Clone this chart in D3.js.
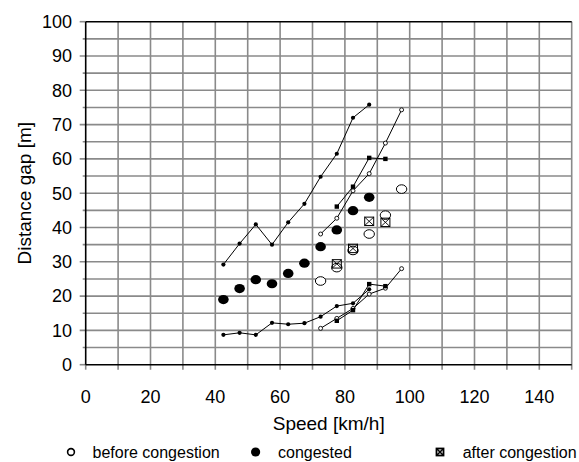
<!DOCTYPE html>
<html>
<head>
<meta charset="utf-8">
<script src="https://cdn.jsdelivr.net/npm/d3@7"></script>
<style>
  html, body { margin: 0; padding: 0; background: #fff; }
  svg { display: block; font-family: "Liberation Sans", Arial, sans-serif; }
</style>
</head>
<body>
<svg id="chart" width="579" height="462"></svg>
<script>
// Speed bins (km/h) for each traffic state
const speedCongested = [42.5, 47.5, 52.5, 57.5, 62.5, 67.5, 72.5, 77.5, 82.5, 87.5];
const speedBefore = [72.5, 77.5, 82.5, 87.5, 92.5, 97.5];
const speedAfter = [77.5, 82.5, 87.5, 92.5];

// Distance gap (m): mean and upper/lower bounds
const congestedUpper = [29.2, 35.3, 40.9, 35.0, 41.5, 46.9, 54.8, 61.5, 72.0, 75.8];
const congestedMean = [19.0, 22.2, 24.8, 23.6, 26.6, 29.6, 34.4, 39.3, 44.9, 48.8];
const congestedLower = [8.7, 9.3, 8.7, 12.2, 11.8, 12.1, 14.0, 17.1, 17.9, 22.0];

const beforeUpper = [38.1, 42.7, 50.7, 55.7, 64.6, 74.3];
const beforeMean = [24.4, 28.3, 33.3, 38.1, 43.6, 51.2];
const beforeLower = [10.6, 13.5, 16.4, 20.6, 22.3, 28.0];

const afterUpper = [46.1, 51.9, 60.3, 60.0];
const afterMean = [29.4, 33.9, 41.8, 41.5];
const afterLower = [12.8, 15.9, 23.5, 22.9];

// Axis ticks
const xTicks = [0, 20, 40, 60, 80, 100, 120, 140];
const yTicks = [0, 10, 20, 30, 40, 50, 60, 70, 80, 90, 100];

const legendLabels = ["before congestion", "congested", "after congestion"];

const svg = d3.select("#chart");
const x = d3.scaleLinear().domain([0, 150]).range([85.7, 571.7]);
const y = d3.scaleLinear().domain([0, 100]).range([364.7, 21.7]);

const gridColor = "#8a8a8a";

// Grid: vertical every 10 km/h, horizontal every 5 m
const grid = svg.append("g");
grid.selectAll("line.v").data(d3.range(10, 151, 10)).join("line")
  .attr("x1", d => x(d)).attr("x2", d => x(d))
  .attr("y1", y(100)).attr("y2", y(0) + 5)
  .attr("stroke", gridColor).attr("stroke-width", 1.6);
grid.selectAll("line.h").data(d3.range(5, 100, 5)).join("line")
  .attr("x1", d => x(0) - (d % 10 === 0 ? 6 : 3)).attr("x2", x(150))
  .attr("y1", d => y(d)).attr("y2", d => y(d))
  .attr("stroke", gridColor).attr("stroke-width", 1.6);

// Axis ticks at the origin and the top
grid.append("line").attr("x1", x(0) - 6).attr("x2", x(0)).attr("y1", y(100)).attr("y2", y(100))
  .attr("stroke", gridColor).attr("stroke-width", 1.6);
grid.append("line").attr("x1", x(0) - 6).attr("x2", x(0)).attr("y1", y(0)).attr("y2", y(0))
  .attr("stroke", gridColor).attr("stroke-width", 1.6);
grid.append("line").attr("x1", x(0)).attr("x2", x(0)).attr("y1", y(0)).attr("y2", y(0) + 5)
  .attr("stroke", gridColor).attr("stroke-width", 1.6);

// Frame: black left, bottom and top; grey right
svg.append("line").attr("x1", x(0)).attr("x2", x(150)).attr("y1", y(100)).attr("y2", y(100))
  .attr("stroke", "#000").attr("stroke-width", 1.6);
svg.append("line").attr("x1", x(0)).attr("x2", x(150)).attr("y1", y(0)).attr("y2", y(0))
  .attr("stroke", "#000").attr("stroke-width", 1.6);
svg.append("line").attr("x1", x(0)).attr("x2", x(0)).attr("y1", y(100)).attr("y2", y(0))
  .attr("stroke", "#000").attr("stroke-width", 1.6);

// Tick labels
svg.append("g").selectAll("text").data(xTicks).join("text")
  .attr("x", d => x(d)).attr("y", 402.5)
  .attr("text-anchor", "middle").attr("font-size", 18).text(d => d);
svg.append("g").selectAll("text").data(yTicks).join("text")
  .attr("x", 72).attr("y", d => y(d)).attr("dy", "0.35em")
  .attr("text-anchor", "end").attr("font-size", 18).text(d => d);

// Axis titles
svg.append("text").attr("x", (x(0) + x(150)) / 2).attr("y", 430)
  .attr("text-anchor", "middle").attr("font-size", 19).text("Speed [km/h]");
svg.append("text").attr("transform", `translate(30.5,${(y(0) + y(100)) / 2}) rotate(-90)`)
  .attr("text-anchor", "middle").attr("font-size", 19).text("Distance gap [m]");

const zip = (xs, ys) => xs.map((v, i) => [v, ys[i]]);
const line = d3.line().x(d => x(d[0])).y(d => y(d[1]));
const marks = svg.append("g");

// Bound lines
[
  zip(speedCongested, congestedUpper), zip(speedCongested, congestedLower),
  zip(speedBefore, beforeUpper), zip(speedBefore, beforeLower),
  zip(speedAfter, afterUpper), zip(speedAfter, afterLower)
].forEach(pts => {
  marks.append("path").attr("d", line(pts))
    .attr("fill", "none").attr("stroke", "#000").attr("stroke-width", 1);
});

// Small markers on the bound lines
const smallDot = (pts) => marks.append("g").selectAll("circle").data(pts).join("circle")
  .attr("cx", d => x(d[0])).attr("cy", d => y(d[1])).attr("r", 2.1).attr("fill", "#000");
const smallRing = (pts) => marks.append("g").selectAll("circle").data(pts).join("circle")
  .attr("cx", d => x(d[0])).attr("cy", d => y(d[1])).attr("r", 2)
  .attr("fill", "#fff").attr("stroke", "#000").attr("stroke-width", 0.9);
const smallSquare = (pts) => marks.append("g").selectAll("rect").data(pts).join("rect")
  .attr("x", d => x(d[0]) - 2.2).attr("y", d => y(d[1]) - 2.2)
  .attr("width", 4.4).attr("height", 4.4).attr("fill", "#000");

smallDot(zip(speedCongested, congestedUpper));
smallDot(zip(speedCongested, congestedLower));
smallRing(zip(speedBefore, beforeUpper));
smallRing(zip(speedBefore, beforeLower));
smallSquare(zip(speedAfter, afterUpper));
smallSquare(zip(speedAfter, afterLower));

// Mean markers
marks.append("g").selectAll("ellipse").data(zip(speedBefore, beforeMean)).join("ellipse")
  .attr("cx", d => x(d[0])).attr("cy", d => y(d[1])).attr("rx", 5.2).attr("ry", 4.3)
  .attr("fill", "#fff").attr("stroke", "#000").attr("stroke-width", 1);
marks.append("g").selectAll("ellipse").data(zip(speedCongested, congestedMean)).join("ellipse")
  .attr("cx", d => x(d[0])).attr("cy", d => y(d[1])).attr("rx", 5.3).attr("ry", 4.6)
  .attr("fill", "#000");
const crossBox = (g, cx, cy, w, h, sw) => {
  g.append("rect").attr("x", cx - w / 2).attr("y", cy - h / 2).attr("width", w).attr("height", h)
    .attr("fill", "none").attr("stroke", "#000").attr("stroke-width", sw);
  g.append("path")
    .attr("d", `M${cx - w / 2},${cy - h / 2}L${cx + w / 2},${cy + h / 2}M${cx + w / 2},${cy - h / 2}L${cx - w / 2},${cy + h / 2}`)
    .attr("stroke", "#000").attr("stroke-width", sw * 0.9);
};
const afterG = marks.append("g");
zip(speedAfter, afterMean).forEach(d => crossBox(afterG, x(d[0]), y(d[1]), 9, 8.4, 1));

// Legend
const legend = svg.append("g").attr("font-size", 16);
const ly = 452;
legend.append("circle").attr("cx", 71).attr("cy", ly).attr("r", 3.4)
  .attr("fill", "#fff").attr("stroke", "#000").attr("stroke-width", 1.6);
legend.append("circle").attr("cx", 255.6).attr("cy", ly).attr("r", 4.6).attr("fill", "#000");
crossBox(legend, 440, ly, 7, 7, 1.8);
[[92.5, legendLabels[0]], [278, legendLabels[1]], [462.7, legendLabels[2]]].forEach(([lx, t]) => {
  legend.append("text").attr("x", lx).attr("y", ly).attr("dy", "0.36em").text(t);
});
</script>
</body>
</html>
